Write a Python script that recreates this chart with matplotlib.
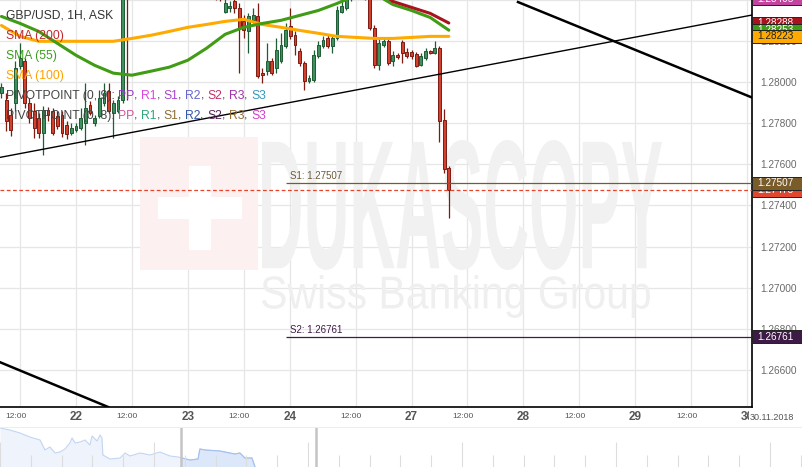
import numpy as np
import matplotlib
matplotlib.use('agg')
import matplotlib.pyplot as plt
import matplotlib.transforms as mtrans
from matplotlib.patches import Rectangle, PathPatch
from matplotlib.textpath import TextPath
from matplotlib.font_manager import FontProperties

plt.rcParams['font.family'] = ['Liberation Sans', 'DejaVu Sans']

W, H = 803, 467

###############
# Data: GBP/USD 1H candles, hours counted from 22 Nov 00:00 (weekend gap removed)
###############
hours = list(range(-16, 81))
opens = [1.27947, 1.27913, 1.27840, 1.27898, 1.28078, 1.28102, 1.27898, 1.27859, 1.27825, 1.27753,
         1.27864, 1.27859, 1.27835, 1.27840, 1.27791, 1.27753, 1.27767, 1.27777, 1.27801, 1.27888,
         1.27801, 1.27835, 1.27898, 1.27956, 1.27850, 1.27859, 1.27913, 1.28650, 1.28456, 1.28510,
         1.28550, 1.28520, 1.28570, 1.28620, 1.28600, 1.28640, 1.28690, 1.28660, 1.28610, 1.28640,
         1.28620, 1.28560, 1.28580, 1.28540, 1.28490, 1.28510, 1.28460, 1.28430, 1.28344, 1.28359,
         1.28393, 1.28359, 1.28296, 1.28247, 1.28301, 1.28320, 1.28044, 1.28053, 1.28102, 1.28068,
         1.28102, 1.28175, 1.28272, 1.28228, 1.28150, 1.28092, 1.28005, 1.28010, 1.28126, 1.28175,
         1.28213, 1.28175, 1.28213, 1.28344, 1.28359, 1.28407, 1.28480, 1.28510, 1.28470, 1.28432,
         1.28262, 1.28082, 1.28179, 1.28199, 1.28102, 1.28131, 1.28194, 1.28146, 1.28146, 1.28136,
         1.28082, 1.28116, 1.28150, 1.28141, 1.28165, 1.27816, 1.27583]
highs = [1.27995, 1.27947, 1.27874, 1.28102, 1.28189, 1.28116, 1.27922, 1.27898, 1.27850, 1.27884,
         1.27879, 1.27874, 1.27859, 1.27859, 1.27811, 1.27801, 1.27801, 1.27874, 1.27995, 1.27908,
         1.27840, 1.27961, 1.27995, 1.27995, 1.27913, 1.27932, 1.28723, 1.28747, 1.28540, 1.28580,
         1.28610, 1.28590, 1.28650, 1.28680, 1.28660, 1.28720, 1.28750, 1.28700, 1.28660, 1.28690,
         1.28650, 1.28600, 1.28620, 1.28570, 1.28530, 1.28540, 1.28500, 1.28470, 1.28407, 1.28393,
         1.28412, 1.28383, 1.28325, 1.28335, 1.28359, 1.28383, 1.28068, 1.28189, 1.28116, 1.28213,
         1.28238, 1.28286, 1.28359, 1.28247, 1.28165, 1.28102, 1.28034, 1.28155, 1.28199, 1.28223,
         1.28228, 1.28228, 1.28369, 1.28393, 1.28432, 1.28530, 1.28560, 1.28540, 1.28500, 1.28456,
         1.28276, 1.28209, 1.28213, 1.28209, 1.28150, 1.28141, 1.28204, 1.28165, 1.28155, 1.28146,
         1.28141, 1.28165, 1.28155, 1.28199, 1.28175, 1.27869, 1.27593]
lows = [1.27922, 1.27762, 1.27738, 1.27859, 1.28063, 1.27874, 1.27801, 1.27728, 1.27728, 1.27646,
        1.27811, 1.27743, 1.27772, 1.27733, 1.27724, 1.27743, 1.27758, 1.27767, 1.27694, 1.27840,
        1.27787, 1.27825, 1.27884, 1.27850, 1.27728, 1.27850, 1.27898, 1.27913, 1.28420, 1.28470,
        1.28500, 1.28480, 1.28540, 1.28580, 1.28550, 1.28610, 1.28640, 1.28590, 1.28560, 1.28600,
        1.28540, 1.28500, 1.28520, 1.28470, 1.28440, 1.28440, 1.28400, 1.28395, 1.28335, 1.28344,
        1.28335, 1.28044, 1.28213, 1.28141, 1.28286, 1.28019, 1.27995, 1.28034, 1.28034, 1.28044,
        1.28092, 1.28165, 1.28209, 1.28131, 1.28078, 1.27961, 1.27995, 1.28000, 1.28116, 1.28165,
        1.28165, 1.28141, 1.28204, 1.28335, 1.28349, 1.28395, 1.28450, 1.28440, 1.28400, 1.28252,
        1.28068, 1.28058, 1.28170, 1.28082, 1.28078, 1.28112, 1.28092, 1.28116, 1.28112, 1.28073,
        1.28078, 1.28107, 1.28136, 1.28136, 1.27709, 1.27559, 1.27340]
closes = [1.27976, 1.27811, 1.27767, 1.28068, 1.28116, 1.27898, 1.27825, 1.27777, 1.27753, 1.27864,
          1.27840, 1.27753, 1.27787, 1.27753, 1.27748, 1.27777, 1.27787, 1.27825, 1.27874, 1.27850,
          1.27825, 1.27922, 1.27947, 1.27859, 1.27898, 1.27913, 1.28674, 1.28456, 1.28510, 1.28550,
          1.28520, 1.28570, 1.28620, 1.28600, 1.28640, 1.28690, 1.28660, 1.28610, 1.28640, 1.28620,
          1.28560, 1.28580, 1.28540, 1.28490, 1.28510, 1.28460, 1.28430, 1.28412, 1.28383, 1.28373,
          1.28359, 1.28262, 1.28252, 1.28320, 1.28325, 1.28029, 1.28034, 1.28102, 1.28044, 1.28155,
          1.28179, 1.28252, 1.28223, 1.28179, 1.28092, 1.28005, 1.28019, 1.28131, 1.28179, 1.28204,
          1.28175, 1.28213, 1.28349, 1.28373, 1.28407, 1.28480, 1.28510, 1.28470, 1.28432, 1.28262,
          1.28082, 1.28189, 1.28199, 1.28092, 1.28131, 1.28121, 1.28141, 1.28126, 1.28126, 1.28078,
          1.28126, 1.28150, 1.28141, 1.28165, 1.27811, 1.27578, 1.27473]

# moving averages
sma_x = [-16, -12, -8, -4, 0, 4, 8, 12, 16, 20, 24, 28, 32, 36, 40, 44, 48, 52, 56, 60, 64, 68, 72, 76, 80]
sma55 = [1.28320, 1.28286, 1.28247, 1.28189, 1.28131, 1.28082, 1.28044, 1.28034, 1.28053, 1.28073,
         1.28107, 1.28165, 1.28233, 1.28267, 1.28286, 1.28301, 1.28325, 1.28349, 1.28383, 1.28422,
         1.28432, 1.28378, 1.28349, 1.28315, 1.28253]
sma100 = [1.28276, 1.28223, 1.28199, 1.28199, 1.28199, 1.28199, 1.28199, 1.28213, 1.28228, 1.28247,
          1.28267, 1.28281, 1.28296, 1.28306, 1.28281, 1.28267, 1.28252, 1.28238, 1.28223, 1.28218,
          1.28213, 1.28213, 1.28218, 1.28223, 1.28223]
sma200_x = [60, 64, 68, 72, 76, 80]
sma200 = [1.28529, 1.28456, 1.28393, 1.28364, 1.28335, 1.28288]

# trend lines (hour, price)
trend_thin_x, trend_thin_p = [-16.3, 145.1], [1.27634, 1.28327]
trend_down_x, trend_down_p = [94.85, 145.1], [1.28390, 1.27925]
trend_low_x, trend_low_p = [-16.3, 6.9], [1.26637, 1.26419]

# pivot levels and last price
pivot_start = 45
s1, s2 = 1.27507, 1.26761
last_price = 1.27473
top_tag = 1.28405

# x axis
tick_h = [-12, 0, 12, 24, 36, 46, 60, 72, 84, 96, 108, 120, 132, 144]
tick_lbl = ['12:00', '22', '12:00', '23', '12:00', '24', '12:00', '27', '12:00', '28', '12:00', '29',
            '12:00', '30']
y_ticks = [1.266, 1.268, 1.270, 1.272, 1.274, 1.276, 1.278, 1.280, 1.282, 1.284]

# navigator (trading days, price)
nav_day = [0, 0.32, 0.65, 0.97, 1.30, 1.46, 1.62, 1.79, 1.95, 2.11, 2.27, 2.34, 2.44, 2.60, 2.76,
           2.92, 2.99, 3.15, 3.25, 3.31, 3.34, 3.57, 3.90, 4.06, 4.22, 4.55, 4.87, 5.19, 5.52, 5.78,
           5.91, 6.17, 6.43, 6.49, 6.66, 7.14, 7.63, 7.79, 7.95, 8.18, 8.28]
nav_price = [1.3118, 1.3094, 1.3058, 1.3010, 1.2974, 1.2854, 1.2890, 1.2818, 1.2830, 1.2866, 1.2938,
             1.2998, 1.2938, 1.2950, 1.2974, 1.2914, 1.3022, 1.2962, 1.3034, 1.2998, 1.2794, 1.2746,
             1.2758, 1.2818, 1.2782, 1.2818, 1.2794, 1.2830, 1.2782, 1.2770, 1.2758, 1.2734, 1.2746,
             1.2866, 1.2854, 1.2842, 1.2806, 1.2818, 1.2758, 1.2758, 1.2650]
nav_window = [5.88, 10.26]

###############
# Figure
###############
fig = plt.figure(figsize=(W / 100, H / 100), dpi=100)
ax = fig.add_axes([0, 60 / H, 752 / W, 407 / H])
YMIN, YMAX = 1.26419, 1.28390
ax.set_xlim(-16.31, 145.06)
ax.set_ylim(YMIN, YMAX)
ax.set_axisbelow(True)
ax.grid(True, color='#e6e6e6', lw=0.9)
ax.set_yticks(y_ticks)
ax.set_yticklabels(['%.5f' % v for v in y_ticks])
ax.yaxis.tick_right()
ax.tick_params(axis='y', length=0, pad=6, labelsize=7.3, labelcolor='#6a6a6a')
ax.set_xticks(tick_h)
ax.tick_params(axis='x', length=0, labelbottom=False)
for sp in ['top', 'left']:
    ax.spines[sp].set_visible(False)
for sp in ['right', 'bottom']:
    ax.spines[sp].set_color('black')
    ax.spines[sp].set_linewidth(1.2)

# watermark
pix = mtrans.Affine2D()
ax.add_patch(Rectangle((140, H - 270), 118, 133, transform=pix, fc='#fdf0f0', ec='none', zorder=0.6))
ax.add_patch(Rectangle((189, H - 250), 22, 84, transform=pix, fc='white', ec='none', zorder=0.61))
ax.add_patch(Rectangle((158, H - 219), 84, 22, transform=pix, fc='white', ec='none', zorder=0.61))


def fit_text(s, x0, y0, x1, y1, weight, color):
    tp = TextPath((0, 0), s, size=100, prop=FontProperties(family='Liberation Sans', weight=weight))
    ext = tp.get_extents()
    tr = (mtrans.Affine2D().translate(-ext.x0, -ext.y0)
          .scale((x1 - x0) / ext.width, (y1 - y0) / ext.height).translate(x0, H - y1))
    ax.add_patch(PathPatch(tp, transform=tr, fc=color, ec='none', zorder=0.62))


fit_text('DUKASCOPY', 262, 140, 662, 270, 'bold', '#f1f1f1')
fit_text('Swiss Banking Group', 262, 275, 650, 318, 'normal', '#efefef')

# candles
x = np.array(hours)
o, hi, lo, c = map(np.array, (opens, highs, lows, closes))
up = c >= o
dn = ~up
ax.vlines(x[up], lo[up], hi[up], color='#1d5c34', lw=0.9, zorder=2)
ax.vlines(x[dn], lo[dn], hi[dn], color='#7c1b12', lw=0.9, zorder=2)
ax.bar(x[up], c[up] - o[up], bottom=o[up], width=0.62, color='#3f8f5f', edgecolor='#1d5c34', lw=0.7, zorder=3)
ax.bar(x[dn], c[dn] - o[dn], bottom=o[dn], width=0.62, color='#d2412d', edgecolor='#7c1b12', lw=0.7, zorder=3)

# moving averages
ax.plot(sma_x, sma100, color='#ffaa00', lw=2.2, zorder=4, solid_capstyle='round')
ax.plot(sma_x, sma55, color='#3f9c14', lw=2.2, zorder=4, solid_capstyle='round')
ax.plot(sma200_x, sma200, color='#a8141e', lw=2.2, zorder=4, solid_capstyle='round')

# trend lines
ax.plot(trend_thin_x, trend_thin_p, color='black', lw=1.0, zorder=5)
ax.plot(trend_down_x, trend_down_p, color='black', lw=1.8, zorder=5)
ax.plot(trend_low_x, trend_low_p, color='black', lw=1.8, zorder=5)

# pivot levels and last price
ax.hlines(s1, pivot_start, 145.06, color='#7a5c2a', lw=0.9, zorder=5)
ax.hlines(s2, pivot_start, 145.06, color='#3e1b47', lw=0.9, zorder=5)
ax.axhline(last_price, color='#e8442a', lw=0.9, ls=(0, (3, 2)), zorder=5)
ax.annotate('S1: %.5f' % s1, (pivot_start + 1, s1), xytext=(0, 1.5), textcoords='offset points',
            fontsize=7, color='#6b5a3a', va='bottom')
ax.annotate('S2: %.5f' % s2, (pivot_start + 1, s2), xytext=(0, 1.5), textcoords='offset points',
            fontsize=7, color='#3e1b47', va='bottom')

# price tags on the right axis
trans = mtrans.blended_transform_factory(ax.transAxes, ax.transData)
hh = 6.5 * (YMAX - YMIN) / 407


def price_tag(price, fc, tc, z):
    ax.add_patch(Rectangle((1.0, price - hh), 50 / 752, 2 * hh, transform=trans, fc=fc, ec='#222222',
                           lw=0.7, clip_on=False, zorder=z))
    ax.text(1.0 + 5 / 752, price, '%.5f' % price, transform=trans, color=tc, fontsize=7.2,
            va='center', ha='left', clip_on=False, zorder=z + 0.1)


price_tag(top_tag, '#c2449e', 'white', 10)
price_tag(sma200[-1], '#a8141e', 'white', 11)
price_tag(sma55[-1], '#3f9c14', 'white', 12)
price_tag(sma100[-1], '#ffaa00', '#222222', 13)
price_tag(last_price, '#e0472d', 'white', 10)
price_tag(s1, '#7a5c2a', 'white', 11)
price_tag(s2, '#3e1b47', 'white', 10)

# x labels
xlab = mtrans.blended_transform_factory(ax.transData, ax.transAxes)
for t, lbl in zip(tick_h, tick_lbl):
    if lbl == '12:00':
        ax.text(t, -10 / 407, lbl, transform=xlab + mtrans.ScaledTranslation(-4.5 / 100, 0, fig.dpi_scale_trans),
                ha='center', va='center', fontsize=6, color='#555555', clip_on=False)
    else:
        ax.text(t, -10 / 407, lbl, transform=xlab, ha='center', va='center', fontsize=8.5,
                fontweight='bold', color='#555555', clip_on=False)
fig.text(750 / W, 1 - 417 / H, '30.11.2018', ha='left', va='center', fontsize=6.5, color='#555555',
         bbox=dict(boxstyle='square,pad=0.15', fc='white', ec='none'))

# legend text top-left
renderer = fig.canvas.get_renderer()


def text_w(s, fs):
    t = fig.text(0, 0, s, fontsize=fs)
    w = t.get_window_extent(renderer).width
    t.remove()
    return w


def draw_row(y_img, pieces, fs=8.7):
    space = text_w('x x', fs) - text_w('xx', fs)
    xp = 6
    for s, col in pieces:
        fig.text(xp / W, 1 - y_img / H, s, fontsize=fs, color=col, va='center', ha='left', zorder=20)
        core = s.rstrip(' ')
        xp += text_w(core, fs) + space * (len(s) - len(core))


def pivot_row(head, cols):
    names = ['PP', 'R1', 'S1', 'R2', 'S2', 'R3', 'S3']
    pieces = [(head, '#444444')]
    for i, (n, col) in enumerate(zip(names, cols)):
        pieces.append((n, col))
        if i < len(names) - 1:
            pieces.append((', ', '#444444'))
    return pieces


draw_row(15.7, [('GBP/USD, 1H, ASK', '#333333')])
draw_row(35.7, [('SMA (200)', '#c0272d')])
draw_row(55.7, [('SMA (55)', '#3d9c1c')])
draw_row(75.7, [('SMA (100)', '#ffa200')])
draw_row(95.7, pivot_row('PIVOTPOINT (0, 9): ',
                         ['#9933cc', '#dd44dd', '#aa44cc', '#6666cc', '#c2306a', '#a033aa', '#3399bb']))
draw_row(115.7, pivot_row('PIVOTPOINT (0, 8): ',
                          ['#d4509c', '#2ea57a', '#8c6d34', '#3355a5', '#55225a', '#8c6d34', '#d43ccc']))

###############
# Navigator strip
###############
nav = fig.add_axes([0, 0, 1, 40 / H])
nav.set_xlim(0, W / 30.8)
nav.set_ylim(1.2650, 1.3130)
nd, npr = np.array(nav_day), np.array(nav_price)
nav.fill_between(nd, npr, 1.2650, color='#eef3fc', lw=0)
nav.plot(nd, npr, color='#c3d5f2', lw=0.8)
win = nd >= nav_window[0]
nav.fill_between(nd, npr, 1.2650, where=win, interpolate=True, color='#dce7f9', lw=0)
nav.plot(nd[win], npr[win], color='#a4c0ee', lw=0.8)
ntr = mtrans.blended_transform_factory(nav.transData, nav.transAxes)
days = np.arange(0, 27)
nav.vlines(days[days % 5 != 0], 0, 0.3, transform=ntr, color='#dddddd', lw=0.8)
nav.vlines(days[days % 5 == 0], 0, 0.62, transform=ntr, color='#dddddd', lw=0.8)
for d in nav_window:
    nav.axvline(d, color='#c4c4c4', lw=1.8)
nav.set_xticks([])
nav.set_yticks([])
for sp in ['left', 'right', 'bottom']:
    nav.spines[sp].set_visible(False)
nav.spines['top'].set_color('#eeeeee')

fig.savefig('out.png', dpi=100)
